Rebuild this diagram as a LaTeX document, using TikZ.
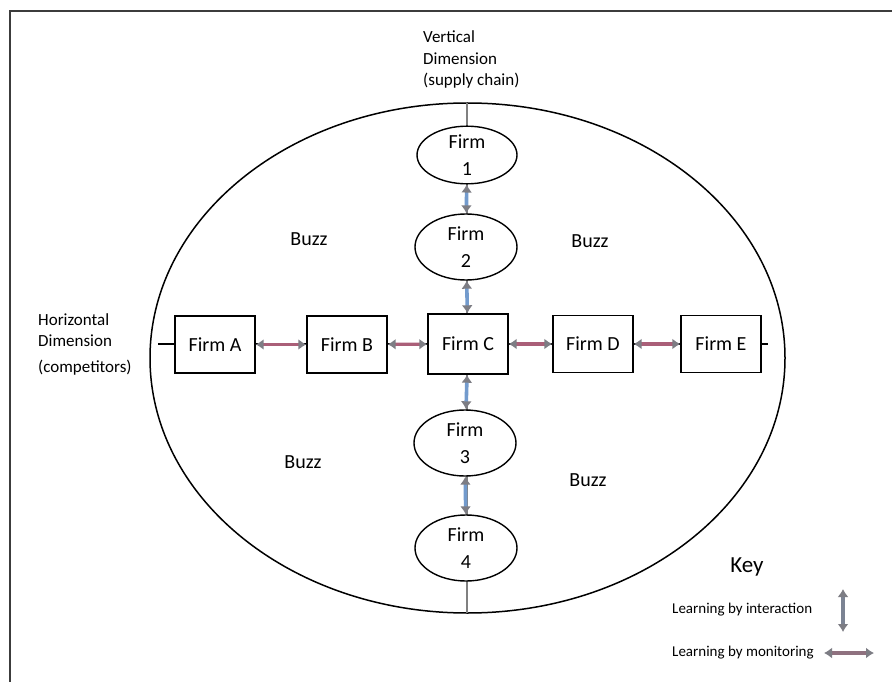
\documentclass[tikz,border=0pt]{standalone}
\usepackage{fontspec}
\setmainfont{Carlito}
\usetikzlibrary{shapes.geometric,arrows.meta}
\definecolor{intblue}{RGB}{115,155,205}
\definecolor{monmauve}{RGB}{170,95,120}
\definecolor{headgray}{RGB}{125,125,132}
\definecolor{framegray}{RGB}{60,60,60}
\tikzset{
  firmell/.style={ellipse,draw,line width=1.4pt,minimum width=102pt,minimum height=66pt,inner sep=0pt,align=center,font=\fontsize{20}{27}\selectfont,fill=white},
  firmbox/.style={rectangle,draw,line width=1.4pt,minimum width=80pt,minimum height=57pt,inner sep=0pt,font=\fontsize{20}{23}\selectfont,fill=white},
  interarrow/.style={draw=intblue,line width=3.6pt,{Latex[length=8pt,width=11pt,color=headgray]}-{Latex[length=8pt,width=11pt,color=headgray]}},
  monarrow/.style={draw=monmauve,line width=3.2pt,{Latex[length=8pt,width=11pt,color=headgray]}-{Latex[length=8pt,width=11pt,color=headgray]}},
  buzz/.style={font=\fontsize{20}{24}\selectfont,inner sep=0pt},
  dimlabel/.style={align=left,inner sep=0pt,font=\fontsize{17}{21.5}\selectfont},
  keytext/.style={anchor=west,inner sep=0pt,font=\fontsize{15}{18}\selectfont},
}
\begin{document}
\begin{tikzpicture}[x=1pt,y=-1pt]
\useasboundingbox (0,0) rectangle (892,682);
\fill[white] (0,0) rectangle (892,682);
% frame
\draw[framegray,line width=2pt] (10,682) -- (10,11) -- (892,11);
% big ellipse
\draw[line width=1.5pt] (467.5,358) ellipse [x radius=317.5pt, y radius=255pt];
% axes
\coordinate (vtop) at (467,103);
\coordinate (vbot) at (467,613);
\coordinate (hleft) at (158,344);
\coordinate (hright) at (768,344);
\draw[gray,line width=1.6pt] (vtop) -- (vbot);
\draw[black,line width=1.3pt] (hleft) -- (hright);
% firms (vertical)
\node[firmell,minimum height=54pt,minimum width=100pt] (f1) at (467,155) {Firm\\1};
\node[firmell] (f2) at (466,247) {Firm\\2};
\node[firmell] (f3) at (465,443) {Firm\\3};
\node[firmell] (f4) at (466,548) {Firm\\4};
% firms (horizontal)
\node[firmbox] (fa) at (215,344.5) {Firm A};
\node[firmbox] (fb) at (347,344.5) {Firm B};
\node[firmbox,minimum height=60pt] (fc) at (468,344) {Firm C};
\node[firmbox] (fd) at (593,344) {Firm D};
\node[firmbox] (fe) at (721,344) {Firm E};
% interaction arrows
\draw[interarrow] (f1) -- (f2);
\draw[interarrow] (f2) -- (fc);
\draw[interarrow] (fc) -- (f3);
\draw[interarrow] (f3) -- (f4);
% monitoring arrows
\draw[monarrow] (fa) -- (fb);
\draw[monarrow] (fb) -- (fc);
\draw[monarrow] (fc) -- (fd);
\draw[monarrow] (fd) -- (fe);
% labels
\node[dimlabel,anchor=base west] (vlab) at (423,86) {Vertical\\Dimension\\(supply chain)};
\node[dimlabel,anchor=base west] (hlab) at (38,372) {Horizontal\\Dimension\\[4pt](competitors)};
\node[buzz] (b1) at (309,239) {Buzz};
\node[buzz] (b2) at (590,241) {Buzz};
\node[buzz] (b3) at (303,462) {Buzz};
\node[buzz] (b4) at (588,480) {Buzz};
% key
\node[inner sep=0pt,font=\fontsize{23}{26}\selectfont] (key) at (747,567) {Key};
\node[keytext] (kint) at (672,610) {Learning by interaction};
\node[keytext] (kmon) at (672,653) {Learning by monitoring};
\coordinate (ki1) at (843,589);
\coordinate (ki2) at (843,632);
\coordinate (km1) at (824,653);
\coordinate (km2) at (874,653);
\draw[interarrow,draw=headgray!80!intblue] (ki1) -- (ki2);
\draw[monarrow,draw=headgray!60!monmauve] (km1) -- (km2);
\end{tikzpicture}
\end{document}
